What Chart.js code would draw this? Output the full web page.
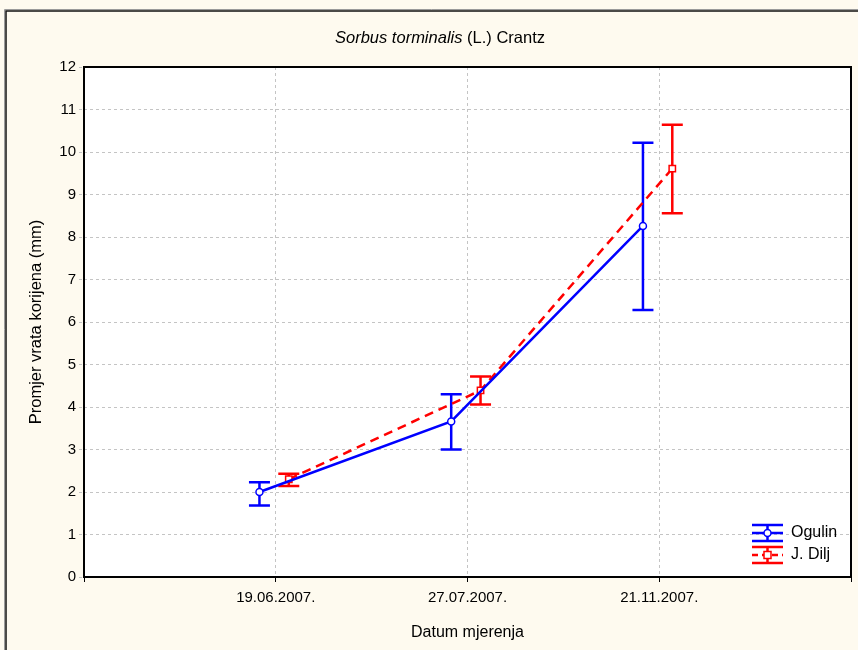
<!DOCTYPE html>
<html>
<head>
<meta charset="utf-8">
<script src="https://cdn.jsdelivr.net/npm/chart.js@4/dist/chart.umd.min.js"></script>
<style>
  html, body { margin: 0; padding: 0; background: #fefaef; }
  #wrap { width: 858px; height: 650px; position: relative; }
</style>
</head>
<body>
<div id="wrap"><canvas id="myChart"></canvas></div>
<script>
// data
const categories = ['19.06.2007.', '27.07.2007.', '21.11.2007.'];
const ogulinMean = [2.0, 3.66, 8.26];
const ogulinLow = [1.68, 3.0, 6.28];
const ogulinHigh = [2.23, 4.3, 10.22];
const diljMean = [2.3, 4.39, 9.61];
const diljLow = [2.14, 4.06, 8.56];
const diljHigh = [2.43, 4.72, 10.64];
const seriesNames = ['Ogulin', 'J. Dilj'];

const FONT = 'Liberation Sans, Arial, sans-serif';
const BLUE = '#0000ff';
const RED = '#ff0000';
// small horizontal shift so the two series don't overlap
const shift = [-0.085, 0.068];

function points(vals, s) {
  return vals.map((v, i) => ({ x: i + 1 + shift[s], y: v }));
}

const errors = [
  { low: ogulinLow, high: ogulinHigh, color: BLUE },
  { low: diljLow, high: diljHigh, color: RED }
];

// background, white plot area, frame
const backdrop = {
  id: 'backdrop',
  beforeDraw(chart) {
    const c = chart.ctx, a = chart.chartArea;
    c.save();
    c.fillStyle = '#fefaef';
    c.fillRect(0, 0, chart.width, chart.height);
    c.strokeStyle = '#9a9a9a';
    c.lineWidth = 1;
    c.beginPath();
    c.moveTo(4.5, chart.height); c.lineTo(4.5, 9.5); c.lineTo(chart.width, 9.5);
    c.stroke();
    c.strokeStyle = '#111';
    c.lineWidth = 1.5;
    c.beginPath();
    c.moveTo(6, chart.height); c.lineTo(6, 11); c.lineTo(chart.width, 11);
    c.stroke();
    c.fillStyle = '#fff';
    c.fillRect(a.left, a.top, a.right - a.left, a.bottom - a.top);
    c.restore();
  },
  afterDraw(chart) {
    const c = chart.ctx, a = chart.chartArea;
    c.save();
    c.strokeStyle = '#000';
    c.lineWidth = 2;
    c.strokeRect(a.left, a.top, a.right - a.left, a.bottom - a.top);
    // title with italic species name
    const t1 = 'Sorbus torminalis', t2 = ' (L.) Crantz';
    c.fillStyle = '#000';
    c.textBaseline = 'middle';
    c.font = 'italic 16.5px ' + FONT;
    const w1 = c.measureText(t1).width;
    c.font = '16.5px ' + FONT;
    const w2 = c.measureText(t2).width;
    let x = 440 - (w1 + w2) / 2;
    c.font = 'italic 16.5px ' + FONT;
    c.fillText(t1, x, 38);
    c.font = '16.5px ' + FONT;
    c.fillText(t2, x + w1, 38);

    // legend in the lower right corner
    const lx = 752, lw = 31;
    const rows = [
      { y: 533, color: BLUE, dash: [], circle: true },
      { y: 555, color: RED, dash: [6, 4], circle: false }
    ];
    rows.forEach((r, i) => {
      c.strokeStyle = r.color;
      c.lineWidth = 2.5;
      c.setLineDash([]);
      c.beginPath();
      c.moveTo(lx, r.y - 8); c.lineTo(lx + lw, r.y - 8);
      c.moveTo(lx, r.y + 8); c.lineTo(lx + lw, r.y + 8);
      c.moveTo(lx + lw / 2, r.y - 8); c.lineTo(lx + lw / 2, r.y + 8);
      c.stroke();
      c.setLineDash(r.dash);
      c.beginPath();
      c.moveTo(lx, r.y); c.lineTo(lx + lw, r.y);
      c.stroke();
      c.setLineDash([]);
      c.fillStyle = '#fff';
      c.lineWidth = 1.5;
      if (r.circle) {
        c.beginPath(); c.arc(lx + lw / 2, r.y, 3.5, 0, Math.PI * 2); c.fill(); c.stroke();
      } else {
        c.fillRect(lx + lw / 2 - 3.5, r.y - 3.5, 7, 7);
        c.strokeRect(lx + lw / 2 - 3.5, r.y - 3.5, 7, 7);
      }
      c.fillStyle = '#000';
      c.font = '16px ' + FONT;
      c.textBaseline = 'middle';
      c.fillText(seriesNames[i], 791, r.y);
    });
    c.restore();
  }
};

// vertical error bars with caps
const errorBars = {
  id: 'errorBars',
  beforeDatasetsDraw(chart) {
    const c = chart.ctx, xs = chart.scales.x, ys = chart.scales.y;
    c.save();
    errors.forEach((e, s) => {
      c.strokeStyle = e.color;
      c.lineWidth = 2.5;
      e.low.forEach((lo, i) => {
        const px = xs.getPixelForValue(i + 1 + shift[s]);
        const y1 = ys.getPixelForValue(lo), y2 = ys.getPixelForValue(e.high[i]);
        c.beginPath();
        c.moveTo(px, y1); c.lineTo(px, y2);
        c.moveTo(px - 10.5, y1); c.lineTo(px + 10.5, y1);
        c.moveTo(px - 10.5, y2); c.lineTo(px + 10.5, y2);
        c.stroke();
      });
    });
    c.restore();
  }
};

const ctx = document.getElementById('myChart').getContext('2d');
new Chart(ctx, {
  type: 'line',
  data: {
    datasets: [{
      label: seriesNames[0],
      data: points(ogulinMean, 0),
      borderColor: BLUE,
      borderWidth: 2.5,
      pointStyle: 'circle',
      pointRadius: 3.5,
      pointBorderWidth: 1.5,
      pointBackgroundColor: '#fff',
      pointBorderColor: BLUE
    },
    {
      label: seriesNames[1],
      data: points(diljMean, 1),
      borderColor: RED,
      borderWidth: 2.5,
      borderDash: [9, 6],
      pointStyle: 'rect',
      pointRadius: 4.5,
      pointBorderWidth: 1.5,
      pointBackgroundColor: '#fff',
      pointBorderColor: RED
    }]
  },
  options: {
    animation: false,
    responsive: true,
    maintainAspectRatio: false,
    layout: { padding: { left: 0, top: 67, right: 7, bottom: 0 } },
    plugins: {
      legend: { display: false },
      tooltip: { enabled: false }
    },
    scales: {
      x: {
        type: 'linear',
        min: 0,
        max: 4,
        afterFit: s => { s.height = 73; },
        ticks: {
          stepSize: 1,
          color: '#000',
          font: { family: FONT, size: 15 },
          padding: 7,
          maxRotation: 0,
          callback: v => categories[v - 1] || ''
        },
        grid: {
          color: c => (c.tick.value > 0 && c.tick.value < 4) ? '#c4c4c4' : 'rgba(0,0,0,0)',
          tickLength: 5,
          tickColor: '#000',
          tickBorderDash: []
        },
        border: { display: false, dash: [3, 3] },
        title: {
          display: true,
          text: 'Datum mjerenja',
          color: '#000',
          font: { family: FONT, size: 16 },
          padding: { top: 2, bottom: 8 }
        }
      },
      y: {
        min: 0,
        max: 12,
        afterFit: s => { s.width = 84; },
        ticks: {
          stepSize: 1,
          color: '#000',
          font: { family: FONT, size: 15 },
          padding: 3
        },
        grid: {
          color: '#c4c4c4',
          tickLength: 5,
          tickBorderDash: [3, 3]
        },
        border: { display: false, dash: [3, 3] },
        title: {
          display: true,
          text: 'Promjer vrata korijena (mm)',
          color: '#000',
          font: { family: FONT, size: 16.5 },
          padding: { bottom: 0, top: 27 }
        }
      }
    }
  },
  plugins: [backdrop, errorBars]
});
</script>
</body>
</html>
